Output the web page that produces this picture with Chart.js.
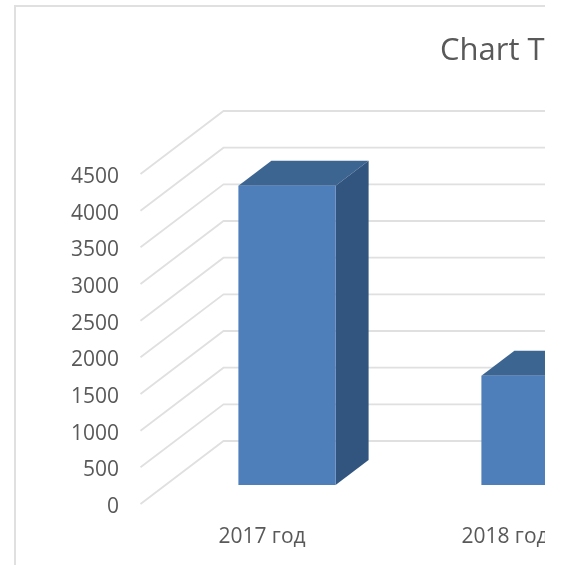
<!DOCTYPE html>
<html>
<head>
<meta charset="utf-8">
<script src="https://cdn.jsdelivr.net/npm/chart.js@4"></script>
<style>
html,body{margin:0;padding:0;background:#fff;width:566px;height:565px;overflow:hidden}
#clip{position:absolute;left:0;top:0;width:545px;height:565px;overflow:hidden}
canvas{display:block;filter:blur(0.4px)}
</style>
</head>
<body>
<div id="clip"><canvas id="c" width="640" height="565" style="width:640px;height:565px"></canvas></div>
<script>
const titleText = 'Chart Title';
const categories = ['2017 год', '2018 год'];
const seriesValues = [4080, 1490];
const axisMax = 4500;
const axisStep = 500;

const FONT = '"Open Sans", sans-serif';
const TEXT = '#595959';
const GRID = '#e0e0e0';
const FRONT = '#4e7fbb';
const TOP = '#3c6591';
const SIDE = '#32557f';
// projection of the 3D walls
const WALL_DX = 83, WALL_DY = 63;     // front edge of the floor to back wall
const BAR_DX = 25, BAR_DY = 19;       // front edge of the floor to bar front face
const DEPTH_DX = 33, DEPTH_DY = 25;   // bar depth

const bar3d = {
  id: 'bar3d',
  afterLayout(chart) { chart.titleBlock.left = 440; },
  beforeDraw(chart) {
    const ctx = chart.ctx;
    ctx.save();
    ctx.strokeStyle = GRID;
    ctx.lineWidth = 2;
    ctx.beginPath();
    ctx.moveTo(15, 565);
    ctx.lineTo(15, 6);
    ctx.lineTo(640, 6);
    ctx.stroke();
    ctx.restore();
  },
  beforeDatasetsDraw(chart) {
    const ctx = chart.ctx, y = chart.scales.y, a = chart.chartArea;
    ctx.save();
    ctx.strokeStyle = GRID;
    ctx.lineWidth = 1.8;
    y.ticks.forEach(t => {
      const py = y.getPixelForValue(t.value);
      ctx.beginPath();
      ctx.moveTo(a.left, py);
      ctx.lineTo(a.left + WALL_DX, py - WALL_DY);
      ctx.lineTo(a.right, py - WALL_DY);
      ctx.stroke();
    });
    ctx.restore();
  },
  beforeDatasetDraw(chart, args) {
    const ctx = chart.ctx;
    ctx.save();
    ctx.translate(BAR_DX, -BAR_DY);
    args.meta.data.forEach(b => {
      const l = b.x - b.width / 2, r = b.x + b.width / 2;
      ctx.fillStyle = TOP;
      ctx.beginPath();
      ctx.moveTo(l, b.y);
      ctx.lineTo(l + DEPTH_DX, b.y - DEPTH_DY);
      ctx.lineTo(r + DEPTH_DX, b.y - DEPTH_DY);
      ctx.lineTo(r, b.y);
      ctx.closePath();
      ctx.fill();
      ctx.fillStyle = SIDE;
      ctx.beginPath();
      ctx.moveTo(r, b.y);
      ctx.lineTo(r + DEPTH_DX, b.y - DEPTH_DY);
      ctx.lineTo(r + DEPTH_DX, b.base - DEPTH_DY);
      ctx.lineTo(r, b.base);
      ctx.closePath();
      ctx.fill();
    });
  },
  afterDatasetDraw(chart) { chart.ctx.restore(); }
};

new Chart(document.getElementById('c'), {
  type: 'bar',
  data: {
    labels: categories,
    datasets: [{
      label: 'Series 1',
      data: seriesValues,
      backgroundColor: FRONT,
      borderWidth: 0,
      barPercentage: 1,
      categoryPercentage: 0.4
    }]
  },
  plugins: [bar3d],
  options: {
    responsive: false,
    animation: false,
    devicePixelRatio: 1,
    layout: { padding: { left: 0, top: 0, bottom: 0, right: 13.5 } },
    plugins: {
      legend: { display: false },
      tooltip: { enabled: false },
      title: {
        display: true,
        text: titleText,
        align: 'start',
        color: TEXT,
        font: { family: FONT, size: 31, weight: 'normal', lineHeight: 1.2 },
        padding: { top: 32.4, bottom: 104.4 }
      }
    },
    scales: {
      x: {
        afterFit(s) { s.height = 61; },
        grid: { display: false, drawTicks: false },
        border: { display: false },
        ticks: { color: TEXT, padding: 20.4, maxRotation: 0, autoSkip: false, font: { family: FONT, size: 21 } }
      },
      y: {
        min: 0,
        max: axisMax,
        afterFit(s) { s.width = 140.5; },
        grid: { display: false, drawTicks: false },
        border: { display: false },
        ticks: { color: TEXT, padding: 21.5, labelOffset: 3, stepSize: axisStep, font: { family: FONT, size: 21 }, callback: v => String(v) }
      }
    }
  }
});
</script>
</body>
</html>
